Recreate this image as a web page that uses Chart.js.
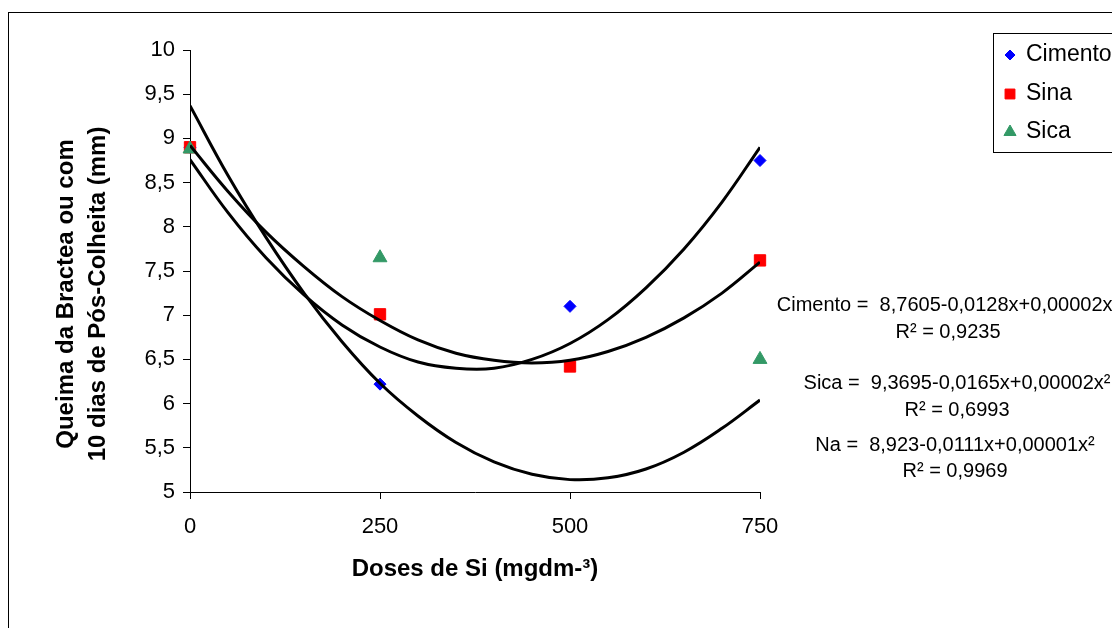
<!DOCTYPE html>
<html>
<head>
<meta charset="utf-8">
<script src="https://cdn.jsdelivr.net/npm/chart.js@4.4.0/dist/chart.umd.min.js"></script>
<style>
  body { margin: 0; background: #fff; }
  canvas { display: block; }
</style>
</head>
<body>
<canvas id="grafico" width="1112" height="628"></canvas>
<script>
// pontos observados
var doses = [0, 250, 500, 750];
var cimento = [8.9, 6.22, 7.1, 8.75];
var sina = [8.9, 7.01, 6.42, 7.62];
var sica = [8.88, 7.65, null, 6.5];

// linhas de tendencia
var curveX = [0, 50, 100, 150, 200, 250, 300, 350, 400, 450, 500, 550, 600, 650, 700, 750];
var curveCimento = [8.76, 8.16, 7.65, 7.23, 6.89, 6.64, 6.47, 6.4, 6.4, 6.5, 6.68, 6.95, 7.31, 7.75, 8.28, 8.9];
var curveSica = [9.37, 8.58, 7.88, 7.25, 6.7, 6.23, 5.86, 5.56, 5.34, 5.2, 5.14, 5.16, 5.26, 5.45, 5.72, 6.04];
var curveNa = [8.92, 8.4, 7.94, 7.55, 7.21, 6.94, 6.72, 6.57, 6.49, 6.46, 6.49, 6.59, 6.75, 6.97, 7.25, 7.6];

var xTicks = [0, 250, 500, 750];
var legendLabels = ['Cimento', 'Sina', 'Sica'];
var yTitle = ['Queima da Bractea ou com', '10 dias de Pós-Colheita (mm)'];
var equations = [
  ['Cimento =  8,7605-0,0128x+0,00002x²', 'R² = 0,9235'],
  ['Sica =  9,3695-0,0165x+0,00002x²', 'R² = 0,6993'],
  ['Na =  8,923-0,0111x+0,00001x²', 'R² = 0,9969']
];

function pts(xs, ys) {
  return xs.map(function (x, i) { return { x: x, y: ys[i] }; });
}

Chart.defaults.font.family = "'Liberation Sans', Arial, sans-serif";
Chart.defaults.color = '#000';

var marks = [
  { style: 'rectRot', color: '#0000ff', r: 6 },
  { style: 'rect', color: '#ff0000', r: 8 },
  { style: 'triangle', color: '#339966', r: 8 }
];

function curveSet(data) {
  return {
    type: 'line', data: data, showLine: true, borderColor: '#000', borderWidth: 3,
    pointRadius: 0, tension: 0.4, fill: false, order: 0
  };
}

var extras = {
  id: 'extras',
  afterDraw: function (chart) {
    var ctx = chart.ctx;
    ctx.save();
    // moldura externa
    ctx.strokeStyle = '#000';
    ctx.lineWidth = 1;
    ctx.strokeRect(8.5, 12.5, 1200, 700);

    // titulo do eixo y
    ctx.fillStyle = '#000';
    ctx.font = "bold 24px 'Liberation Sans', Arial, sans-serif";
    ctx.textAlign = 'center';
    ctx.textBaseline = 'middle';
    ctx.save();
    ctx.translate(66, 294);
    ctx.rotate(-Math.PI / 2);
    ctx.fillText(yTitle[0], 0, 0);
    ctx.fillText(yTitle[1], 0, 32);
    ctx.restore();

    // legenda
    ctx.fillStyle = '#fff';
    ctx.fillRect(993.5, 33.5, 130, 119);
    ctx.strokeRect(993.5, 33.5, 130, 119);
    ctx.font = "23px 'Liberation Sans', Arial, sans-serif";
    ctx.textAlign = 'left';
    var ys = [55, 94, 132];
    for (var i = 0; i < legendLabels.length; i++) {
      var m = marks[i];
      ctx.fillStyle = m.color;
      ctx.strokeStyle = m.color;
      Chart.helpers.drawPoint(ctx, { pointStyle: m.style, radius: m.r - 1, rotation: 0, borderWidth: 1 }, 1010, ys[i]);
      ctx.fillStyle = '#000';
      ctx.fillText(legendLabels[i], 1026, ys[i]);
    }

    // equacoes
    ctx.font = "20px 'Liberation Sans', Arial, sans-serif";
    ctx.textAlign = 'center';
    var eqPos = [[948, 305, 332], [957, 383, 410], [955, 445, 471]];
    for (var j = 0; j < equations.length; j++) {
      ctx.fillText(equations[j][0], eqPos[j][0], eqPos[j][1]);
      ctx.fillText(equations[j][1], eqPos[j][0], eqPos[j][2]);
    }
    ctx.restore();
  }
};

var ctx = document.getElementById('grafico').getContext('2d');
var chart = new Chart(ctx, {
  type: 'scatter',
  data: {
    datasets: [
      { label: 'Cimento', data: pts(doses, cimento), pointStyle: 'rectRot', pointRadius: 6,
        backgroundColor: '#0000ff', borderColor: '#0000ff', borderWidth: 1, order: 3, clip: false },
      { label: 'Sina', data: pts(doses, sina), pointStyle: 'rect', pointRadius: 8,
        backgroundColor: '#ff0000', borderColor: '#ff0000', borderWidth: 1, order: 2, clip: false },
      { label: 'Sica', data: pts(doses, sica), pointStyle: 'triangle', pointRadius: 8,
        backgroundColor: '#339966', borderColor: '#339966', borderWidth: 1, order: 1, clip: false },
      curveSet(pts(curveX, curveCimento)),
      curveSet(pts(curveX, curveSica)),
      curveSet(pts(curveX, curveNa))
    ]
  },
  options: {
    responsive: false,
    animation: false,
    layout: { padding: { left: 40, right: 352, top: 50, bottom: 40 } },
    plugins: { legend: { display: false }, tooltip: { enabled: false } },
    scales: {
      x: {
        type: 'linear', min: 0, max: 750,
        afterBuildTicks: function (scale) {
          scale.ticks = xTicks.map(function (v) { return { value: v }; });
        },
        afterFit: function (scale) { scale.height = 96; },
        grid: { drawOnChartArea: false, drawTicks: true, tickLength: 7, color: '#000' },
        border: { color: '#000', width: 1 },
        ticks: { font: { size: 22 }, padding: 15, maxRotation: 0 },
        title: {
          display: true, text: 'Doses de Si (mgdm-³)',
          font: { size: 24, weight: 'bold' }, padding: { top: 0, bottom: 4 }
        }
      },
      y: {
        min: 5, max: 10,
        afterFit: function (scale) { scale.width = 150; },
        grid: { drawOnChartArea: false, drawTicks: true, tickLength: 7, color: '#000' },
        border: { color: '#000', width: 1 },
        ticks: {
          stepSize: 0.5, font: { size: 22 }, padding: 8,
          callback: function (v) { return String(v).replace('.', ','); }
        },
        title: { display: false }
      }
    }
  },
  plugins: [extras]
});
</script>
</body>
</html>
